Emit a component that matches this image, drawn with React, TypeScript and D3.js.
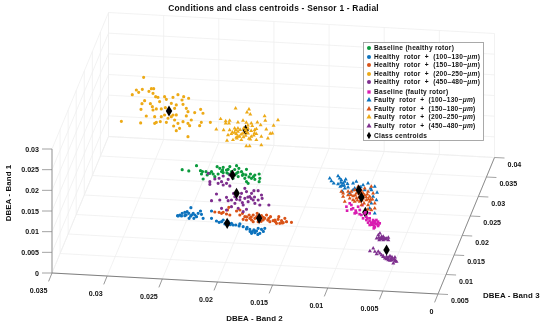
import React from "react";
import * as d3 from "d3";

// point values are [Band 2, Band 1] in thousandths.
// the picture can't separate the third axis, so Band 3 is one estimate per cluster
const healthyBase = [[24.66,17.07],[24.06,16.84],[23.36,18.23],[23.0,17.07],[22.82,16.86],[22.91,16.27],[22.76,15.08],[22.0,16.97],[21.85,16.43],[21.49,18.26],[21.25,17.88],[20.94,18.18],[20.49,17.75],[19.73,18.75],[19.52,18.13],[18.83,18.0],[19.13,16.82],[19.58,16.12],[20.19,17.24],[20.43,16.63],[20.94,16.89],[21.4,16.49],[21.7,15.81],[20.04,15.65],[19.73,16.89],[19.28,17.37],[18.98,15.8],[18.83,15.02],[18.68,14.64],[18.47,16.92],[18.07,16.73],[17.68,17.03],[17.62,16.0],[17.68,15.18],[18.07,15.68],[18.38,15.89],[18.89,16.62],[19.88,16.47],[21.09,17.11],[20.64,17.57],[20.34,18.43],[22.15,16.54],[22.39,16.11],[19.2,16.5],[20.6,16.9],[19.6,17.2],[18.6,16.2],[18.2,16.3],[21.0,17.5],[19.9,17.8],[22.5,16.9]];
const healthy100 = [[25.08,5.88],[24.87,6.07],[24.66,6.51],[24.42,6.78],[24.72,5.85],[23.87,7.99],[24.06,6.6],[24.03,5.39],[23.81,6.22],[23.66,6.65],[23.51,6.27],[23.21,6.72],[23.0,7.31],[22.91,6.52],[22.76,5.57],[23.6,5.45],[23.36,5.89],[22.0,7.45],[22.0,5.68],[21.55,5.1],[21.31,4.82],[21.09,5.01],[20.79,4.49],[20.49,5.09],[20.19,4.74],[19.8,4.38],[19.43,4.69],[19.13,4.08],[18.83,3.57],[18.53,3.53],[18.16,3.42],[17.77,3.88],[17.47,3.68],[17.17,3.97],[18.37,2.58],[18.07,2.78],[17.62,2.69],[17.92,3.21],[18.77,3.97],[20.04,4.35],[20.94,5.43],[24.42,5.97],[24.21,6.97],[25.02,5.81],[18.0,3.2],[18.3,3.0],[17.8,2.4],[17.3,3.2],[18.5,3.0],[20.3,4.4],[19.5,4.2],[24.3,6.2],[23.9,5.9]];
const healthy150 = [[21.7,7.26],[21.31,7.24],[20.94,7.29],[20.55,7.91],[20.43,8.57],[20.64,6.93],[20.34,6.73],[19.73,7.78],[19.43,8.07],[19.19,7.3],[18.98,6.52],[18.83,5.74],[18.53,6.19],[18.22,7.03],[17.86,7.5],[17.47,6.98],[17.01,7.21],[16.8,6.44],[17.32,5.95],[17.77,5.49],[18.22,5.42],[18.59,6.98],[19.13,5.86],[19.43,6.86],[17.17,6.39],[17.62,6.32],[18.07,6.25],[18.37,5.8],[21.09,7.03],[16.71,5.64],[16.25,6.11],[15.96,6.32],[15.65,6.04],[15.35,6.65],[15.2,5.86],[14.75,5.77],[16.11,5.33],[15.81,5.37],[15.5,5.58],[15.9,6.97],[16.65,6.86],[16.41,5.93],[17.3,6.6],[17.9,6.7],[18.4,6.5],[16.9,6.0],[16.2,5.7],[17.5,5.6],[18.8,6.5],[15.6,5.5]];
const healthy200 = [[30.35,24.43],[31.01,21.27],[31.38,20.09],[30.47,21.51],[30.8,20.74],[29.87,21.12],[29.65,21.79],[29.44,21.82],[29.5,20.69],[30.26,18.8],[30.5,18.04],[30.59,16.65],[29.74,18.15],[29.56,17.45],[29.26,19.91],[29.05,19.78],[28.45,20.03],[28.29,19.4],[27.69,19.98],[27.24,20.69],[26.72,20.28],[26.27,19.95],[26.87,19.45],[26.78,18.41],[27.39,18.17],[27.84,18.51],[28.9,18.76],[29.5,16.65],[29.2,16.94],[28.75,17.01],[28.38,17.38],[27.54,17.34],[27.69,15.7],[27.39,15.75],[26.48,17.5],[26.33,16.71],[26.48,15.64],[25.72,16.56],[25.18,17.44],[24.97,16.51],[26.03,14.73],[26.33,13.89],[26.18,13.34],[25.12,14.3],[25.27,13.47],[24.3,14.42],[27.09,12.57],[26.33,10.66],[27.39,11.96],[27.63,13.05],[28.29,13.84],[28.84,13.93],[29.2,13.71],[29.35,13.45],[30.11,15.11],[30.62,13.35],[32.37,13.49],[29.35,15.06],[28.75,15.15],[28.14,14.84],[27.54,14.51],[27.24,13.76],[26.78,14.22],[27.84,15.28],[28.45,15.59]];
const healthy450 = [[22.3,16.52],[22.15,14.53],[22.15,13.88],[21.7,15.24],[21.31,15.47],[20.94,16.08],[20.49,15.33],[20.64,14.35],[20.94,13.9],[21.4,14.24],[20.34,16.41],[21.55,11.63],[22.0,9.95],[21.25,10.22],[21.09,8.24],[20.64,10.96],[20.49,10.17],[20.19,10.38],[20.64,7.89],[19.73,10.6],[19.88,9.62],[19.58,8.46],[19.13,9.32],[18.98,13.38],[18.83,12.6],[18.98,10.96],[18.68,10.2],[19.13,7.71],[18.16,12.93],[17.77,12.99],[18.53,11.43],[18.22,10.66],[18.07,9.88],[17.77,10.73],[17.47,11.98],[17.41,11.19],[17.62,9.54],[16.8,9.66],[20.19,8.77],[19.43,10.49],[20.34,13.75],[19.28,12.13],[18.37,12.26],[18.83,8.33],[21.09,14.69],[19.88,11.23],[18.7,11.3],[18.4,11.0],[19.4,11.2],[20.0,12.0],[18.1,11.4],[19.2,9.9]];
const faultyBase = [[10.5,5.45],[10.44,4.49],[10.2,6.3],[10.05,5.92],[9.9,5.14],[9.66,4.6],[9.75,3.95],[9.14,3.63],[8.99,2.85],[8.69,2.48],[8.39,2.94],[8.08,2.57],[7.93,1.79],[7.63,2.24],[7.48,1.86],[7.63,1.19],[7.93,0.82],[8.39,1.32],[8.24,1.91],[8.69,3.29],[9.29,4.82],[9.44,5.6],[9.05,6.06],[8.39,4.15],[8.02,0.57],[8.84,4.08],[8.54,1.87],[7.78,2.62],[10.05,4.87],[8.1,2.1],[7.9,2.3],[7.8,1.6],[8.2,1.4],[8.0,1.2],[7.7,1.7],[8.4,2.3],[8.6,2.9],[9.3,3.8],[9.6,4.1],[7.6,1.5],[8.1,1.7],[8.78,4.33]];
const faulty100 = [[12.01,12.08],[11.86,11.46],[11.65,10.92],[11.26,12.76],[11.11,12.21],[10.96,11.84],[11.26,10.82],[11.05,10.21],[10.8,11.05],[10.65,9.86],[10.35,10.15],[10.65,11.48],[10.86,9.03],[9.9,11.18],[9.6,11.63],[9.75,9.99],[8.99,10.91],[8.54,11.38],[7.93,10.66],[7.72,9.24],[8.24,9.81],[8.08,8.22],[7.78,7.46],[10.2,8.71],[9.9,9.57],[8.39,5.36],[7.93,4.21],[8.24,6.59],[9.29,8.85],[8.84,9.72],[10.56,12.05],[11.0,11.2],[10.7,10.5],[10.4,11.0],[10.9,10.5],[9.2,10.4],[8.3,10.2]];
const faulty150 = [[10.96,9.02],[10.8,7.83],[10.65,6.64],[10.35,8.29],[10.05,9.15],[9.75,9.59],[9.44,10.44],[9.14,9.52],[8.84,10.12],[8.54,9.37],[8.24,10.62],[8.08,9.02],[8.39,8.18],[7.93,6.63],[7.93,5.42],[8.24,4.97],[8.54,6.14],[8.69,7.32],[8.99,7.69],[9.29,6.84],[9.6,7.6],[9.9,8.12],[10.2,7.51],[10.35,9.1],[9.6,8.8],[9.29,8.69],[8.84,8.51],[8.39,6.97],[9.75,6.77],[10.8,8.63],[8.14,7.56],[8.54,5.09],[9.14,6.05],[8.99,8.89],[9.9,7.15],[9.0,8.2],[9.4,7.8],[9.7,8.3],[9.1,7.2],[8.7,8.0],[8.9,6.5],[8.5,7.6],[9.5,7.1],[10.1,8.4],[9.2,9.2],[8.3,7.5],[8.6,8.7]];
const faulty200 = [[23.37,15.37],[23.76,12.81],[22.91,14.94],[22.55,15.08],[22.91,14.38],[22.61,14.43],[22.01,18.15],[20.8,18.07],[20.98,17.33],[20.68,16.88],[19.38,16.67],[18.17,15.87],[18.57,14.45],[19.32,15.55],[19.74,14.44],[19.23,13.47],[18.68,12.58],[18.87,12.47],[19.08,11.31],[19.68,11.62],[20.29,13.15],[20.13,12.21],[20.59,11.49],[21.04,9.17],[20.74,9.21],[19.68,9.61],[20.13,10.76],[20.89,12.26],[21.34,12.19],[21.8,14.79],[21.34,15.25],[21.04,14.82],[20.59,14.72],[20.04,15.04],[21.8,13.34],[22.1,13.29],[22.55,12.82],[23.1,12.74],[22.4,11.88],[21.95,11.95],[21.65,11.34],[22.25,10.45],[22.79,10.2],[21.49,10.56],[21.95,11.14],[21.28,13.41],[20.89,13.47],[20.5,14.09],[20.13,13.42],[22.1,12.24],[22.7,11.59],[21.8,12.53],[20.68,10.84],[20.37,11.84],[21.5,11.9],[21.0,12.6],[21.3,11.3],[20.8,11.0],[21.8,11.4],[22.0,12.9],[20.6,12.9],[20.3,12.4],[21.1,11.7],[22.3,12.3],[21.6,13.0],[20.9,14.2],[21.9,10.9],[21.1,13.03]];
const faulty450 = [[6.59,5.91],[6.44,6.73],[6.14,6.37],[6.35,5.53],[5.99,6.39],[5.84,6.02],[5.53,6.22],[5.53,5.65],[5.99,5.58],[6.2,5.8],[6.29,7.16],[7.2,2.75],[6.9,3.44],[6.75,2.65],[6.59,2.12],[6.29,2.32],[5.99,1.71],[5.69,1.6],[5.38,1.8],[5.23,1.26],[4.93,0.91],[4.78,0.52],[5.08,0.07],[5.53,0.82],[5.84,1.18],[6.14,1.94],[6.44,2.7],[4.93,1.55],[5.38,0.67],[5.6,1.2],[5.2,0.8],[5.0,1.1],[6.0,1.5],[5.5,1.4],[5.7,1.0],[5.2,1.6],[4.9,0.6],[5.3,1.0],[6.1,6.1],[6.0,5.9],[5.8,5.8],[6.3,5.9],[5.7,6.0],[6.4,6.1]];

// Band 2, Band 3, Band 1 per class, thousandths. "under" ones sit beneath their own points
const centroids = [[20.1,15,16.44],[20.58,15,4.68],[17.68,15,6.31],[28.05,30,16.62],[19.73,15,12.06],[8.78,20,4.33],[9.38,20,9.64],[9.14,20,7.91],[21.1,30,13.03],[5.69,12,3.22]];
const under = [5, 8];

const band2Ticks = [0.035, 0.03, 0.025, 0.02, 0.015, 0.01, 0.005, 0];
const band3Ticks = [0.005, 0.01, 0.015, 0.02, 0.025, 0.03, 0.035, 0.04];
const band1Ticks = [0, 0.005, 0.01, 0.015, 0.02, 0.025, 0.03];

const series = [
  { name: "Baseline (healthy rotor)", points: healthyBase, band3: 15, color: "#0a9a3c", shape: d3.symbolCircle },
  { name: "Healthy  rotor  +  (100–130~", points: healthy100, band3: 15, color: "#0b72bd", shape: d3.symbolCircle },
  { name: "Healthy  rotor  +  (150–180~", points: healthy150, band3: 15, color: "#d95319", shape: d3.symbolCircle },
  { name: "Healthy  rotor  +  (200–250~", points: healthy200, band3: 30, color: "#edaa18", shape: d3.symbolCircle },
  { name: "Healthy  rotor  +  (450–480~", points: healthy450, band3: 15, color: "#7e2f8e", shape: d3.symbolCircle },
  { name: "Baseline (faulty rotor)", points: faultyBase, band3: 20, color: "#d91fb0", shape: d3.symbolSquare },
  { name: "Faulty  rotor  +  (100–130~", points: faulty100, band3: 20, color: "#0b72bd", shape: d3.symbolTriangle },
  { name: "Faulty  rotor  +  (150–180~", points: faulty150, band3: 20, color: "#d95319", shape: d3.symbolTriangle },
  { name: "Faulty  rotor  +  (200–250~", points: faulty200, band3: 30, color: "#edaa18", shape: d3.symbolTriangle },
  { name: "Faulty  rotor  +  (450–480~", points: faulty450, band3: 12, color: "#7e2f8e", shape: d3.symbolTriangle },
];

const legendY = [48, 57, 65, 74, 82, 92, 100, 109, 117, 126];

const font = "'Liberation Sans', Arial, sans-serif";

const band2Scale = d3.scaleLinear().domain([0.035, 0]).range([0, 1]);
const band3Scale = d3.scaleLinear().domain([0.005, 0.04]).range([0, 1]);
const band1Scale = d3.scaleLinear().domain([0, 0.03]).range([0, 124]);

// the view is close to orthographic, so three axis vectors are enough
const project = (b2: number, b3: number, b1: number): [number, number] => {
  const u = band2Scale(b2);
  const v = band3Scale(b3);
  return [52 + 386 * u + 56.5 * v, 273 + 21 * u - 136.5 * v - band1Scale(b1)];
};

const symbolPath = (shape: d3.SymbolType, size: number) => d3.symbol().type(shape).size(size)() as string;

const gridLine = (a: [number, number], b: [number, number], key: string) => (
  <line key={key} x1={a[0]} y1={a[1]} x2={b[0]} y2={b[1]} stroke="#efefef" strokeWidth={0.8} />
);

const Centroid = ({ c }: { c: number[] }) => {
  const [x, y] = project(c[0] / 1000, c[1] / 1000, c[2] / 1000);
  return <path d={symbolPath(d3.symbolDiamond, 36)} transform={`translate(${x},${y})`} fill="#000" />;
};

export default function App() {
  const [b2Min, b2Max] = [0, 0.035];
  const [b3Min, b3Max] = [0.005, 0.04];
  const b1Max = 0.03;

  const grid = [
    ...band2Ticks.map((t) => gridLine(project(t, b3Min, 0), project(t, b3Max, 0), `f2${t}`)),
    ...band3Ticks.map((t) => gridLine(project(b2Max, t, 0), project(b2Min, t, 0), `f3${t}`)),
    ...band2Ticks.map((t) => gridLine(project(t, b3Max, 0), project(t, b3Max, b1Max), `b2${t}`)),
    ...band1Ticks.map((t) => gridLine(project(b2Max, b3Max, t), project(b2Min, b3Max, t), `b1${t}`)),
    ...band3Ticks.map((t) => gridLine(project(b2Max, t, 0), project(b2Max, t, b1Max), `l3${t}`)),
    ...band1Ticks.map((t) => gridLine(project(b2Max, b3Min, t), project(b2Max, b3Max, t), `l1${t}`)),
  ];

  return (
    <svg width={550} height={325} style={{ position: "absolute", left: 0, top: 0, background: "#fff" }} fontFamily={font} fontWeight="bold" fill="#111">
      <defs>
        <filter id="soft" x="0" y="0" width="100%" height="100%">
          <feGaussianBlur stdDeviation="0.2" />
        </filter>
      </defs>
      <g filter="url(#soft)">
        <rect width={550} height={325} fill="#fff" />
        <text x={273.5} y={10.5} fontSize={8.4} letterSpacing={0.22} textAnchor="middle">
          Conditions and class centroids - Sensor 1 - Radial
        </text>

        <g>{grid}</g>

        {/* axes */}
        <line x1={52} y1={273} x2={52} y2={149} stroke="#a6a6a6" strokeWidth={1.2} />
        <line x1={52} y1={273} x2={438} y2={294} stroke="#7f7f7f" strokeWidth={1} />
        <line x1={438} y1={294} x2={494.5} y2={157.5} stroke="#8c8c8c" strokeWidth={1} />

        {band1Ticks.map((t) => {
          const [x, y] = project(b2Max, b3Min, t);
          return (
            <g key={t}>
              <line x1={x - 10} y1={y} x2={x} y2={y} stroke="#8c8c8c" strokeWidth={0.8} />
              <text x={39} y={y + 2.5} fontSize={7.1} textAnchor="end">{t}</text>
            </g>
          );
        })}
        {band2Ticks.map((t) => {
          const [x, y] = project(t, b3Min, 0);
          return (
            <g key={t}>
              <line x1={x} y1={y} x2={x - 3.4} y2={y + 8.4} stroke="#7f7f7f" strokeWidth={0.8} />
              <text x={x - 4.5} y={y + 19.5} fontSize={7.1} textAnchor="end">{t}</text>
            </g>
          );
        })}
        {band3Ticks.map((t) => {
          const [x, y] = project(b2Min, t, 0);
          return (
            <g key={t}>
              <line x1={x} y1={y} x2={x + 10} y2={y + 0.5} stroke="#8c8c8c" strokeWidth={0.8} />
              <text x={x + 13} y={y + 9} fontSize={7.1}>{t}</text>
            </g>
          );
        })}

        <text transform="translate(10.5,193) rotate(-90)" fontSize={7.9} letterSpacing={0.1} textAnchor="middle">DBEA - Band 1</text>
        <text x={254.5} y={320.5} fontSize={7.9} letterSpacing={0.1} textAnchor="middle">DBEA - Band 2</text>
        <text x={483} y={298} fontSize={7.9} letterSpacing={0.1}>DBEA - Band 3</text>

        {/* scatter */}
        {under.map((i) => <Centroid key={i} c={centroids[i]} />)}
        {series.map((s) => (
          <g key={s.name} fill={s.color}>
            {s.points.map((p, i) => {
              const [x, y] = project(p[0] / 1000, s.band3 / 1000, p[1] / 1000);
              const size = s.shape === d3.symbolCircle ? 8 : 7;
              return <path key={i} d={symbolPath(s.shape, size)} transform={`translate(${x},${y})`} />;
            })}
          </g>
        ))}
        {centroids.map((c, i) => (under.includes(i) ? null : <Centroid key={i} c={c} />))}

        {/* legend */}
        <rect x={363.5} y={42.5} width={120} height={98} fill="#fff" stroke="#a0a0a0" strokeWidth={0.9} />
        {series.map((s, i) => (
          <g key={s.name}>
            <path d={symbolPath(s.shape, s.shape === d3.symbolCircle ? 13 : 11)} transform={`translate(369,${legendY[i]})`} fill={s.color} />
            <text x={374} y={legendY[i] + 2.3} fontSize={6.6} letterSpacing={0.27} fill="#111" xmlSpace="preserve">
              {s.name}
              {s.name.endsWith("~") ? <tspan fontStyle="italic">μm</tspan> : null}
              {s.name.endsWith("~") ? ")" : ""}
            </text>
          </g>
        ))}
        <path d={symbolPath(d3.symbolDiamond, 16)} transform="translate(369,135.5)" fill="#000" />
        <text x={374} y={138} fontSize={6.6} letterSpacing={0.27} fill="#111">Class centroids</text>
      </g>
    </svg>
  );
}
